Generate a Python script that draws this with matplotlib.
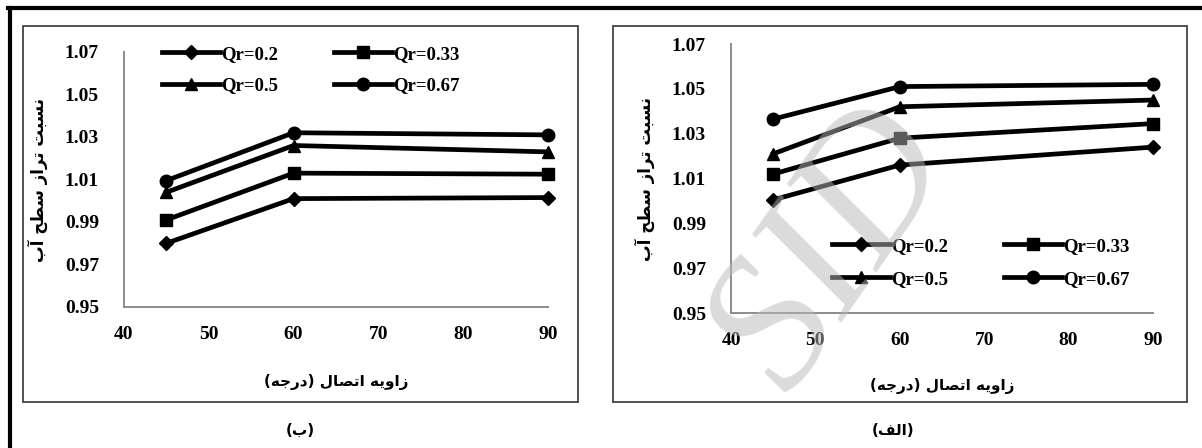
import matplotlib.pyplot as plt
from matplotlib.patches import Rectangle
from matplotlib.lines import Line2D

# joint angle (degrees)
angles = [45, 60, 90]
series_names = ["Qr=0.2", "Qr=0.33", "Qr=0.5", "Qr=0.67"]

# panel (b) - left
b_q02 = [0.980, 1.001, 1.0015]
b_q033 = [0.991, 1.013, 1.0125]
b_q05 = [1.004, 1.026, 1.023]
b_q067 = [1.0095, 1.032, 1.031]

# panel (alef) - right
a_q02 = [1.0005, 1.016, 1.024]
a_q033 = [1.012, 1.028, 1.0345]
a_q05 = [1.021, 1.042, 1.045]
a_q067 = [1.0365, 1.051, 1.052]

x_ticks = [40, 50, 60, 70, 80, 90]
y_ticks = [0.95, 0.97, 0.99, 1.01, 1.03, 1.05, 1.07]

ylabel_fa = "نسبت تراز سطح آب"
xlabel_fa = "زاویه اتصال (درجه)"
cap_b = "(ب)"
cap_a = "(الف)"

# very small arabic shaper: (isolated, final, initial, medial)
FORMS = {
    'ا': ('\uFE8D', '\uFE8E', None, None),
    'آ': ('\uFE81', '\uFE82', None, None),
    'ب': ('\uFE8F', '\uFE90', '\uFE91', '\uFE92'),
    'ت': ('\uFE95', '\uFE96', '\uFE97', '\uFE98'),
    'ج': ('\uFE9D', '\uFE9E', '\uFE9F', '\uFEA0'),
    'ح': ('\uFEA1', '\uFEA2', '\uFEA3', '\uFEA4'),
    'د': ('\uFEA9', '\uFEAA', None, None),
    'ر': ('\uFEAD', '\uFEAE', None, None),
    'ز': ('\uFEAF', '\uFEB0', None, None),
    'س': ('\uFEB1', '\uFEB2', '\uFEB3', '\uFEB4'),
    'ص': ('\uFEB9', '\uFEBA', '\uFEBB', '\uFEBC'),
    'ط': ('\uFEC1', '\uFEC2', '\uFEC3', '\uFEC4'),
    'ف': ('\uFED1', '\uFED2', '\uFED3', '\uFED4'),
    'ل': ('\uFEDD', '\uFEDE', '\uFEDF', '\uFEE0'),
    'ن': ('\uFEE5', '\uFEE6', '\uFEE7', '\uFEE8'),
    'ه': ('\uFEE9', '\uFEEA', '\uFEEB', '\uFEEC'),
    'و': ('\uFEED', '\uFEEE', None, None),
    'ی': ('\uFBFC', '\uFBFD', '\uFBFE', '\uFBFF'),
}


def shape(s):
    out = []
    for i, ch in enumerate(s):
        if ch not in FORMS:
            out.append(ch)
            continue
        f = FORMS[ch]
        prev = s[i - 1] if i > 0 else ''
        nxt = s[i + 1] if i + 1 < len(s) else ''
        jp = prev in FORMS and FORMS[prev][2] is not None
        jn = f[2] is not None and nxt in FORMS
        if jp and jn:
            g = f[3]
        elif jp:
            g = f[1]
        elif jn:
            g = f[2]
        else:
            g = f[0]
        out.append(g)
    vis = ''.join(reversed(out))
    return vis.translate(str.maketrans('()', ')('))


fa_font = dict(family=['DejaVu Sans'], fontweight='bold')
num_font = 'Liberation Serif'

fig = plt.figure(figsize=(12.02, 4.48), dpi=100)
W, H = 1202.0, 448.0


def px(x0, y0, x1, y1):
    return [x0 / W, 1 - y1 / H, (x1 - x0) / W, (y1 - y0) / H]


markers = ['D', 's', '^', 'o']
msizes = [7, 9, 9, 9]


def draw_panel(rect, data, leg_anchor, xl_y, rowsp):
    ax = fig.add_axes(rect)
    lines = []
    for vals, m, ms, name in zip(data, markers, msizes, series_names):
        ln, = ax.plot(angles, vals, color='black', lw=3.4, marker=m,
                      markersize=ms, label=name, clip_on=False)
        lines.append(ln)
    ax.set_xlim(40, 90)
    ax.set_ylim(0.95, 1.07)
    ax.set_xticks(x_ticks)
    ax.set_yticks(y_ticks)
    ax.set_yticklabels(["%.2f" % v for v in y_ticks])
    for s in ['top', 'right']:
        ax.spines[s].set_visible(False)
    for s in ['left', 'bottom']:
        ax.spines[s].set_color('#8c8c8c')
        ax.spines[s].set_linewidth(1.4)
    ax.tick_params(length=0, labelsize=14)
    ax.tick_params(axis='x', pad=14)
    ax.tick_params(axis='y', pad=18)
    for t in ax.get_xticklabels() + ax.get_yticklabels():
        t.set_fontfamily(num_font)
        t.set_fontweight('bold')
    ax.set_ylabel(shape(ylabel_fa), fontsize=12, labelpad=12, **fa_font)
    fig.text((rect[0] + rect[2] / 2), 1 - xl_y / H, shape(xlabel_fa),
             ha='center', va='center', fontsize=11, **fa_font)
    # row-wise order like the original legend
    order = [0, 2, 1, 3]
    fig.legend(handles=[lines[i] for i in order], ncol=2, loc='upper left',
               bbox_to_anchor=leg_anchor, frameon=False,
               handlelength=3.1, handletextpad=0.05,
               columnspacing=3.0, labelspacing=rowsp,
               prop=dict(family=num_font, weight='bold', size=13.5))
    return ax


draw_panel(px(124, 52, 548, 307), [b_q02, b_q033, b_q05, b_q067],
           (145 / W, 1 - 29 / H), 382, 0.75)
draw_panel(px(731, 44, 1153, 313), [a_q02, a_q033, a_q05, a_q067],
           (815 / W, 1 - 221 / H), 386, 0.85)

# panel frames
for x0, x1 in [(23, 578), (613, 1187)]:
    fig.patches.append(Rectangle((x0 / W, 1 - 402 / H), (x1 - x0) / W,
                                 (402 - 26.5) / H, transform=fig.transFigure,
                                 fill=False, ec='#333333', lw=1.2))

# outer border (top and left)
fig.lines.append(Line2D([8 / W, 1], [1 - 8.5 / H, 1 - 8.5 / H],
                        transform=fig.transFigure, color='black', lw=3))
fig.lines.append(Line2D([9.5 / W, 9.5 / W], [0, 1 - 8.5 / H],
                        transform=fig.transFigure, color='black', lw=3))

fig.text(300 / W, 1 - 430 / H, shape(cap_b), ha='center', va='center',
         fontsize=11, **fa_font)
fig.text(893 / W, 1 - 430 / H, shape(cap_a), ha='center', va='center',
         fontsize=11, **fa_font)

# watermark
fig.text(835 / W, 1 - 250 / H, "SID", ha='center', va='center',
         fontsize=135, rotation=55, family='Liberation Serif',
         style='italic', color=(0.72, 0.72, 0.72), alpha=0.5, zorder=10)

fig.savefig('out.png', dpi=100)
